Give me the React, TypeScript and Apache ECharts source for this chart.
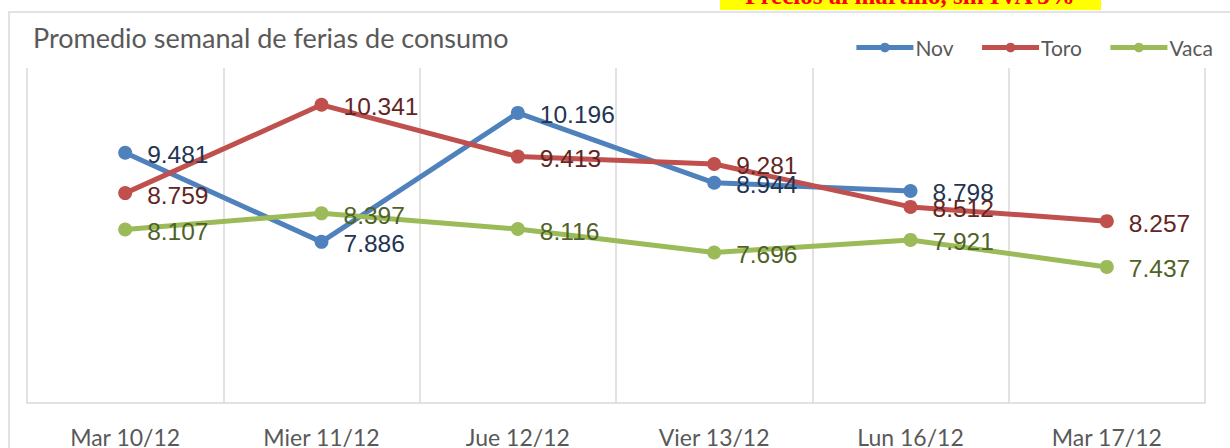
import React, { useEffect, useRef } from "react";
import * as echarts from "echarts";

const categories = ["Mar 10/12", "Mier 11/12", "Jue 12/12", "Vier 13/12", "Lun 16/12", "Mar 17/12"];
const novValues = [9.481, 7.886, 10.196, 8.944, 8.798, null];
const toroValues = [8.759, 10.341, 9.413, 9.281, 8.512, 8.257];
const vacaValues = [8.107, 8.397, 8.116, 7.696, 7.921, 7.437];
const titleText = "Promedio semanal de ferias de consumo";
const bannerText = "Precios al martillo, sin IVA 5%";

function mkSeries(name: string, data: (number | null)[], color: string, labelColor: string) {
  return {
    name,
    type: "line",
    data,
    symbol: "circle",
    symbolSize: 14,
    connectNulls: false,
    lineStyle: { width: 5, color },
    itemStyle: { color },
    label: {
      show: true,
      position: "right",
      distance: 15,
      offset: [0, 2],
      color: labelColor,
      fontFamily: "Liberation Sans",
      fontSize: 24.5,
      formatter: (p: any) => (p.value == null ? "" : Number(p.value).toFixed(3)),
    },
  };
}

export default function App() {
  const ref = useRef<HTMLDivElement>(null);
  useEffect(() => {
    document.body.style.margin = "0";
    const chart = echarts.init(ref.current!, null, { renderer: "svg" });
    chart.setOption({
      animation: false,
      backgroundColor: "#ffffff",
      graphic: [
        { type: "rect", z: -10, shape: { x: 9, y: 12, width: 1240, height: 470 }, style: { fill: "#ffffff", stroke: "#D9D9D9", lineWidth: 1.5 } },
        { type: "rect", z: -10, shape: { x: 720, y: 0, width: 381, height: 10 }, style: { fill: "#FFFF00" } },
        {
          type: "text", z: -9, x: 910, y: 8,
          style: { text: bannerText, fill: "#FF0000", font: "bold 25px 'Liberation Serif'", textAlign: "center", textVerticalAlign: "bottom" },
        },
        {
          type: "text", x: 33, y: 37,
          style: { text: titleText, fill: "#595959", font: "27px Lato", textVerticalAlign: "middle" },
        },
      ],
      legend: {
        top: 32,
        right: 12,
        itemWidth: 57,
        itemHeight: 12,
        itemGap: 26,
        lineStyle: { width: 5 },
        textStyle: { color: "#595959", fontFamily: "Lato", fontSize: 21, padding: [0, 0, 0, -3] },
        data: ["Nov", "Toro", "Vaca"],
      },
      grid: { left: 27, right: 25, top: 68, bottom: 44, containLabel: false },
      xAxis: {
        type: "category",
        data: categories,
        boundaryGap: true,
        axisLine: { show: true, lineStyle: { color: "#D9D9D9", width: 1.5 } },
        axisTick: { show: false },
        splitLine: { show: true, lineStyle: { color: "#D9D9D9", width: 1.5 } },
        axisLabel: { color: "#595959", fontFamily: "Lato", fontSize: 23, margin: 22 },
      },
      yAxis: {
        type: "value",
        min: 5,
        max: 11,
        show: false,
        splitLine: { show: false },
      },
      series: [
        mkSeries("Nov", novValues, "#4F81BD", "#1F3552"),
        mkSeries("Toro", toroValues, "#C0504D", "#632523"),
        mkSeries("Vaca", vacaValues, "#9BBB59", "#4F6228"),
      ],
    });
    return () => chart.dispose();
  }, []);
  return <div ref={ref} style={{ width: 1230, height: 448 }} />;
}
